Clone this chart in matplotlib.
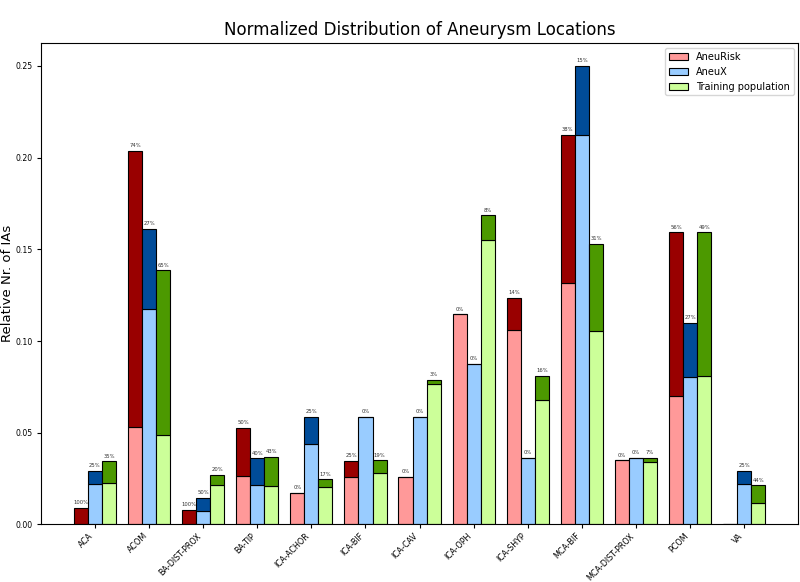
import matplotlib
matplotlib.use("Agg")
import matplotlib.pyplot as plt
import numpy as np

# Aneurysm locations
locations = ["ACA", "ACOM", "BA-DIST-PROX", "BA-TIP", "ICA-ACHOR", "ICA-BIF", "ICA-CAV",
             "ICA-OPH", "ICA-SHYP", "MCA-BIF", "MCA-DIST-PROX", "PCOM", "VA"]

# Relative number of IAs per dataset (total bar height)
aneurisk_total = [0.0088, 0.2036, 0.0080, 0.0528, 0.0171, 0.0348, 0.0258,
                  0.1146, 0.1234, 0.2123, 0.0349, 0.1592, 0.0]
aneux_total = [0.0291, 0.1612, 0.0145, 0.0360, 0.0586, 0.0586, 0.0586,
               0.0875, 0.0362, 0.2500, 0.0362, 0.1099, 0.0291]
training_total = [0.0344, 0.1385, 0.0271, 0.0367, 0.0246, 0.0349, 0.0790,
                  0.1685, 0.0810, 0.1528, 0.0364, 0.1592, 0.0213]

# Share of ruptured aneurysms (%) - dark top part of each bar
aneurisk_rupt = [100, 74, 100, 50, 0, 25, 0, 0, 14, 38, 0, 56, 0]
aneux_rupt = [25, 27, 50, 40, 25, 0, 0, 0, 0, 15, 0, 27, 25]
training_rupt = [35, 65, 20, 43, 17, 19, 3, 8, 16, 31, 7, 49, 44]

datasets = [
    ("AneuRisk", aneurisk_total, aneurisk_rupt, "#ff9999", "#990000"),
    ("AneuX", aneux_total, aneux_rupt, "#99ccff", "#004c99"),
    ("Training population", training_total, training_rupt, "#ccff99", "#4c9900"),
]

fig = plt.figure(figsize=(8, 5.82), dpi=100)
ax = fig.add_axes([0.051, 0.099, 0.947, 0.827])

x = np.arange(1, len(locations) + 1)
width = 0.26

for i, (name, total, rupt, light, dark) in enumerate(datasets):
    total = np.array(total)
    rupt = np.array(rupt)
    unrupt = total * (1 - rupt / 100.0)
    ruptured = total - unrupt
    pos = x + (i - 1) * width
    ax.bar(pos, unrupt, width, color=light, edgecolor="black", linewidth=0.8, label=name)
    ax.bar(pos, ruptured, width, bottom=unrupt, color=dark, edgecolor="black", linewidth=0.8)
    for p, t, r in zip(pos, total, rupt):
        if t > 0:
            ax.text(p, t + 0.0015, "%d%%" % r, ha="center", va="bottom", fontsize=3.8, color="#333333")

ax.set_xlim(0, len(locations) + 1)
ax.set_ylim(0, 0.2625)
ax.set_xticks(x)
ax.set_xticklabels(locations, rotation=45, ha="right", fontsize=5.8)
ax.tick_params(axis="x", length=3, pad=2)
ax.set_yticks([0, 0.05, 0.10, 0.15, 0.20, 0.25])
ax.set_yticklabels(["0.00", "0.05", "0.10", "0.15", "0.20", "0.25"], fontsize=5.6)
ax.tick_params(axis="y", length=3, pad=3)
ax.set_ylabel("Relative Nr. of IAs", fontsize=9.5)
ax.yaxis.set_label_coords(-0.035, 0.5)
ax.set_title("Normalized Distribution of Aneurysm Locations", fontsize=12)
ax.legend(loc="upper right", fontsize=7)

fig.savefig("out.png", dpi=100)
